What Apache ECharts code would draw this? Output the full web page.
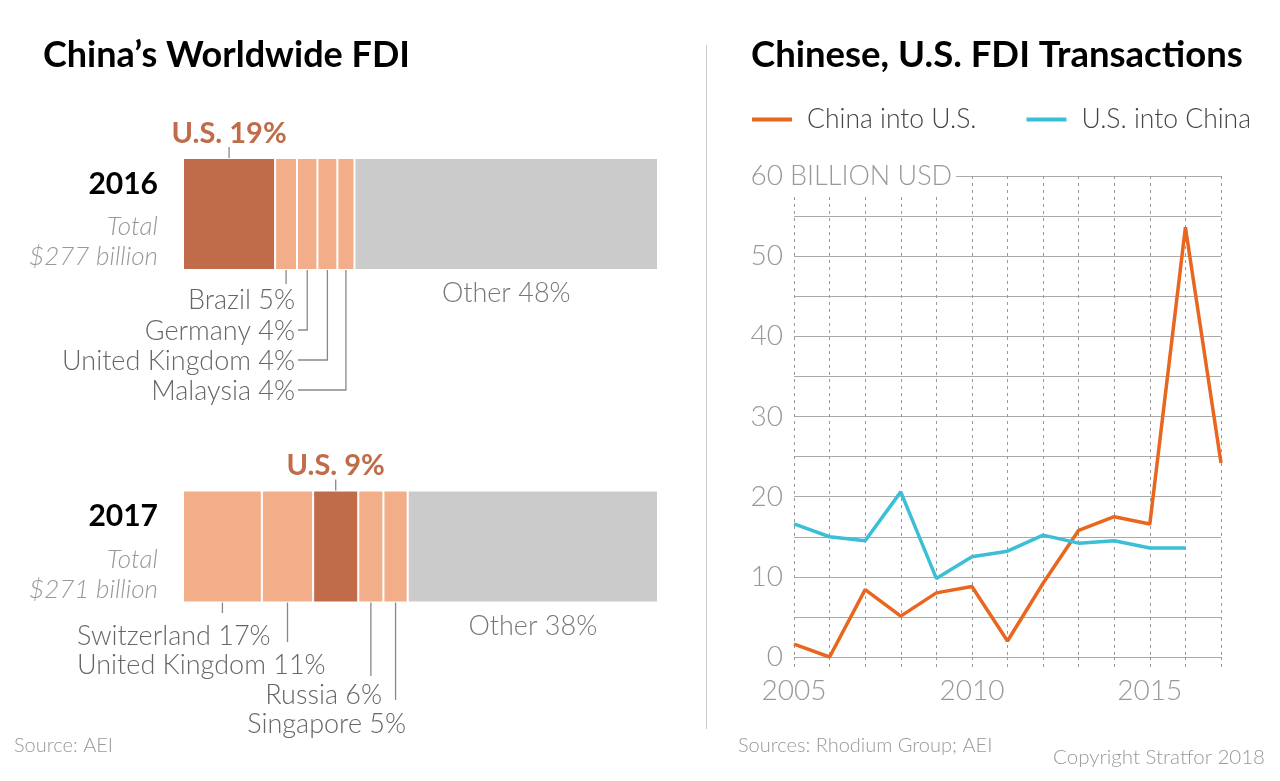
<!DOCTYPE html>
<html>
<head>
<meta charset="utf-8">
<script src="https://cdn.jsdelivr.net/npm/echarts@6/dist/echarts.min.js"></script>
<style>
  html, body { margin: 0; padding: 0; background: #fff; }
  #chart { width: 1280px; height: 781px; }
</style>
</head>
<body>
<div id="chart"></div>
<script>
// left panel: share of China's outbound FDI by destination
const barYears = ['2016', '2017'];
const barTotals = ['$277 billion', '$271 billion'];
const names2016 = ['U.S.', 'Brazil', 'Germany', 'United Kingdom', 'Malaysia', 'Other'];
const labelPct2016 = [19, 5, 4, 4, 4, 48];
const width2016 = [19.4, 4.6, 4.3, 4.2, 3.6, 63.9];
const names2017 = ['Switzerland', 'United Kingdom', 'U.S.', 'Russia', 'Singapore', 'Other'];
const labelPct2017 = [17, 11, 9, 6, 5, 38];
const width2017 = [16.6, 10.8, 9.5, 5.3, 5.1, 52.7];

// right panel: FDI transactions, billion USD
const years = [2005, 2006, 2007, 2008, 2009, 2010, 2011, 2012, 2013, 2014, 2015, 2016, 2017];
const chinaIntoUS = [1.6, 0, 8.4, 5.1, 8.0, 8.8, 2.0, 9.2, 15.8, 17.5, 16.6, 53.6, 24.2];
const usIntoChina = [16.6, 15.0, 14.5, 20.6, 9.8, 12.5, 13.2, 15.2, 14.2, 14.5, 13.6, 13.6];
const yTicks = [0, 10, 20, 30, 40, 50, 60];
const xTicks = [2005, 2010, 2015];

const FONT = 'Lato, "Open Sans", sans-serif';
const US_COLOR = '#C06B4A';
const LIGHT = '#F2AE88';
const OTHER = '#CBCBCB';

const chart = echarts.init(document.getElementById('chart'));

function segColor(name) {
  if (name === 'U.S.') return US_COLOR;
  if (name === 'Other') return OTHER;
  return LIGHT;
}

function segItem(name, pct, w) {
  const item = { value: w, itemStyle: { color: segColor(name) } };
  if (name === 'U.S.') {
    item.label = {
      show: true, position: 'top', distance: 10,
      formatter: name + ' ' + pct + '%',
      color: US_COLOR, fontFamily: FONT, fontWeight: 'bold', fontSize: 29
    };
  } else if (name === 'Other') {
    item.label = {
      show: true, position: 'bottom', distance: 10,
      formatter: name + ' ' + pct + '%',
      color: '#777', fontFamily: FONT, fontWeight: 300, fontSize: 27
    };
  }
  return item;
}

const barSeries = names2016.map((n, i) => ({
  type: 'bar',
  stack: 'share',
  xAxisIndex: 0,
  yAxisIndex: 0,
  barWidth: 112,
  silent: true,
  itemStyle: { borderColor: '#fff', borderWidth: 1 },
  data: [
    segItem(names2016[i], labelPct2016[i], width2016[i]),
    segItem(names2017[i], labelPct2017[i], width2017[i])
  ]
}));

const option = {
  animation: false,
  backgroundColor: '#fff',
  textStyle: { fontFamily: FONT },
  legend: {
    left: 752,
    top: 106,
    padding: 0,
    itemWidth: 40,
    itemHeight: 4,
    itemGap: 50,
    icon: 'rect',
    textStyle: { fontFamily: FONT, fontWeight: 300, fontSize: 26.5, color: '#444', padding: [0, 0, 0, 10] },
    data: ['China into U.S.', 'U.S. into China']
  },
  grid: [
    { left: 183, right: 622, top: 47.75, bottom: 68.25 },
    { left: 794, right: 59, top: 176, bottom: 124 }
  ],
  xAxis: [
    { gridIndex: 0, type: 'value', min: 0, max: 100, show: false },
    {
      gridIndex: 1, type: 'value', min: 2005, max: 2017, interval: 1,
      axisLine: { show: false },
      axisTick: { show: true, length: 11, lineStyle: { color: '#999', type: [3, 4] } },
      splitLine: { show: true, lineStyle: { color: '#999', type: [3, 4] } },
      axisLabel: {
        margin: 20, fontFamily: FONT, fontWeight: 300, fontSize: 28, color: '#999',
        formatter: v => (xTicks.indexOf(v) >= 0 ? String(v) : '')
      }
    }
  ],
  yAxis: [
    {
      gridIndex: 0, type: 'category', inverse: true, data: barYears,
      axisLine: { show: false }, axisTick: { show: false },
      axisLabel: {
        margin: 25,
        formatter: (v, i) => '{y|' + v + '}\n{t|Total}\n{t|' + barTotals[i] + '}',
        rich: {
          y: { fontFamily: FONT, fontWeight: 'bold', fontSize: 30, color: '#000', lineHeight: 56, align: 'right' },
          t: { fontFamily: FONT, fontStyle: 'italic', fontWeight: 300, fontSize: 26, color: '#999', lineHeight: 30, align: 'right' }
        }
      }
    },
    {
      gridIndex: 1, type: 'value', min: 0, max: 60, interval: 5,
      axisLine: { show: false }, axisTick: { show: false },
      splitLine: { lineStyle: { color: '#aaa', width: 1 } },
      axisLabel: {
        margin: 11, fontFamily: FONT, fontWeight: 300, fontSize: 28, color: '#999',
        formatter: v => (yTicks.indexOf(v) >= 0 ? String(v) : '')
      }
    }
  ],
  series: barSeries.concat([
    {
      name: 'China into U.S.', type: 'line', xAxisIndex: 1, yAxisIndex: 1,
      symbol: 'none', color: '#E8661E',
      lineStyle: { width: 3.5, color: '#E8661E' },
      data: chinaIntoUS.map((v, i) => [years[i], v])
    },
    {
      name: 'U.S. into China', type: 'line', xAxisIndex: 1, yAxisIndex: 1,
      symbol: 'none', color: '#3BBFD6',
      lineStyle: { width: 3.5, color: '#3BBFD6' },
      data: usIntoChina.map((v, i) => [years[i], v])
    }
  ])
};

chart.setOption(option);

// annotation layout (label positions for the small segments)
const sideLabels = [
  { row: 0, seg: 1, x: 295, y: 300, align: 'right', elbow: false },
  { row: 0, seg: 2, x: 295, y: 331, align: 'right', elbow: true },
  { row: 0, seg: 3, x: 295, y: 361, align: 'right', elbow: true },
  { row: 0, seg: 4, x: 295, y: 391, align: 'right', elbow: true },
  { row: 1, seg: 0, x: 77, y: 636, align: 'left', elbow: false, stop: 613 },
  { row: 1, seg: 1, x: 77, y: 665, align: 'left', elbow: false, stop: 642 },
  { row: 1, seg: 3, x: 382, y: 695, align: 'right', elbow: false, stop: 676 },
  { row: 1, seg: 4, x: 406, y: 724, align: 'right', elbow: false, stop: 700 }
];

const widths = [width2016, width2017];
const names = [names2016, names2017];
const pcts = [labelPct2016, labelPct2017];

function segCenter(row, seg) {
  let start = 0;
  for (let k = 0; k < seg; k++) start += widths[row][k];
  const mid = start + widths[row][seg] / 2;
  return chart.convertToPixel({ gridIndex: 0 }, [mid, row]);
}

const graphics = [];
const leaderStyle = { stroke: '#888', lineWidth: 1.3, fill: null };

sideLabels.forEach(s => {
  const c = segCenter(s.row, s.seg);
  const barBottom = c[1] + 56;
  const startY = barBottom - 10;
  let pts;
  if (s.elbow) {
    pts = [[c[0], startY], [c[0], s.y - 1], [s.x + 3, s.y - 1]];
  } else if (s.stop) {
    pts = [[c[0], startY], [c[0], s.stop]];
  } else {
    pts = [[c[0], startY], [c[0], s.y - 16]];
  }
  graphics.push({ type: 'polyline', shape: { points: pts }, style: leaderStyle, silent: true });
  graphics.push({
    type: 'text', silent: true,
    style: {
      x: s.x, y: s.y, text: names[s.row][s.seg] + ' ' + pcts[s.row][s.seg] + '%',
      font: '300 27px ' + FONT, fill: '#666', textAlign: s.align, textVerticalAlign: 'middle'
    }
  });
});

// short ticks from the U.S. labels into their segments
[0, 1].forEach(row => {
  const seg = names[row].indexOf('U.S.');
  const c = segCenter(row, seg);
  const top = c[1] - 56;
  graphics.push({ type: 'polyline', shape: { points: [[c[0], top - 11], [c[0], top + 13]] }, style: leaderStyle, silent: true });
});

graphics.push(
  { type: 'text', silent: true, style: { x: 43, y: 55, text: 'China\u2019s Worldwide FDI', font: 'bold 36px ' + FONT, fill: '#000', textVerticalAlign: 'middle' } },
  { type: 'text', silent: true, style: { x: 751, y: 55, text: 'Chinese, U.S. FDI Transactions', font: 'bold 36.5px ' + FONT, fill: '#000', textVerticalAlign: 'middle' } },
  { type: 'line', silent: true, shape: { x1: 706.5, y1: 45, x2: 706.5, y2: 729 }, style: { stroke: '#ccc', lineWidth: 1 } },
  {
    type: 'text', silent: true, z: 100,
    style: {
      x: 786, y: 176, text: 'BILLION USD', font: '300 27px ' + FONT, fill: '#999',
      textVerticalAlign: 'middle', backgroundColor: '#fff', padding: [4, 4, 4, 4]
    }
  },
  { type: 'text', silent: true, style: { x: 14, y: 746, text: 'Source: AEI', font: '300 20px ' + FONT, fill: '#999', textVerticalAlign: 'middle' } },
  { type: 'text', silent: true, style: { x: 738, y: 746, text: 'Sources: Rhodium Group; AEI', font: '300 20px ' + FONT, fill: '#999', textVerticalAlign: 'middle' } },
  { type: 'text', silent: true, style: { x: 1265, y: 757, text: 'Copyright Stratfor 2018', font: '300 20.5px ' + FONT, fill: '#999', textAlign: 'right', textVerticalAlign: 'middle' } }
);

chart.setOption({ graphic: graphics });
</script>
</body>
</html>
